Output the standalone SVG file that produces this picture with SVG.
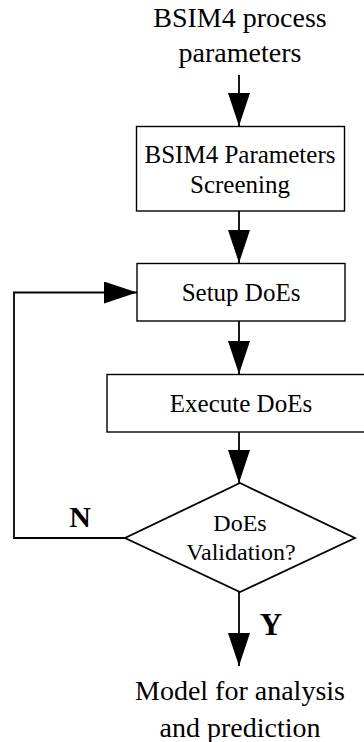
<svg xmlns="http://www.w3.org/2000/svg" width="364" height="742" viewBox="0 0 364 742">
<defs>
<style>
.t{font-family:"Liberation Serif","Times New Roman",serif;fill:#000;text-anchor:middle}
.box{fill:#fff;stroke:#000;stroke-width:1.4}
.c{fill:none;stroke:#000;stroke-width:1.8}
.b{font-weight:bold}
</style>
<marker id="ah" viewBox="0 0 33 22" refX="33" refY="11" markerWidth="33" markerHeight="22" markerUnits="userSpaceOnUse" orient="auto">
<path d="M0,0 L33,11 L0,22 z" fill="#000"/>
</marker>
</defs>
<rect width="364" height="742" fill="#fff"/>
<g id="connectors">
<line class="c" x1="239" y1="75" x2="239" y2="126" marker-end="url(#ah)"/>
<line class="c" x1="239" y1="211" x2="239" y2="263" marker-end="url(#ah)"/>
<line class="c" x1="239" y1="321" x2="239" y2="374" marker-end="url(#ah)"/>
<line class="c" x1="239" y1="432" x2="239" y2="483" marker-end="url(#ah)"/>
<line class="c" x1="239" y1="592" x2="239" y2="666" marker-end="url(#ah)"/>
<polyline class="c" points="125,538 14,538 14,292.5 137,292.5" marker-end="url(#ah)"/>
<text class="t b" x="80" y="527" font-size="30">N</text>
<text class="t b" x="271" y="635" font-size="31">Y</text>
</g>
<g id="input">
<text class="t" x="240" y="27" font-size="28">BSIM4 process</text>
<text class="t" x="240" y="62" font-size="28">parameters</text>
</g>
<g id="screening">
<rect class="box" x="136.5" y="126.5" width="208" height="84.5"/>
<text class="t" x="240" y="163" font-size="25">BSIM4 Parameters</text>
<text class="t" x="240" y="193" font-size="25">Screening</text>
</g>
<g id="setup">
<rect class="box" x="137" y="263.5" width="208" height="57.5"/>
<text class="t" x="241" y="301" font-size="25">Setup DoEs</text>
</g>
<g id="execute">
<rect class="box" x="107" y="374.5" width="270" height="57.5"/>
<text class="t" x="241" y="412" font-size="25">Execute DoEs</text>
</g>
<g id="validation">
<polygon class="box" style="stroke-width:1.8" points="240,483 355,538 240,592 125,538"/>
<text class="t" x="240" y="531" font-size="24">DoEs</text>
<text class="t" x="241" y="560" font-size="24">Validation?</text>
</g>
<g id="output">
<text class="t" x="240" y="700" font-size="28">Model for analysis</text>
<text class="t" x="240" y="737" font-size="28">and prediction</text>
</g>
</svg>
